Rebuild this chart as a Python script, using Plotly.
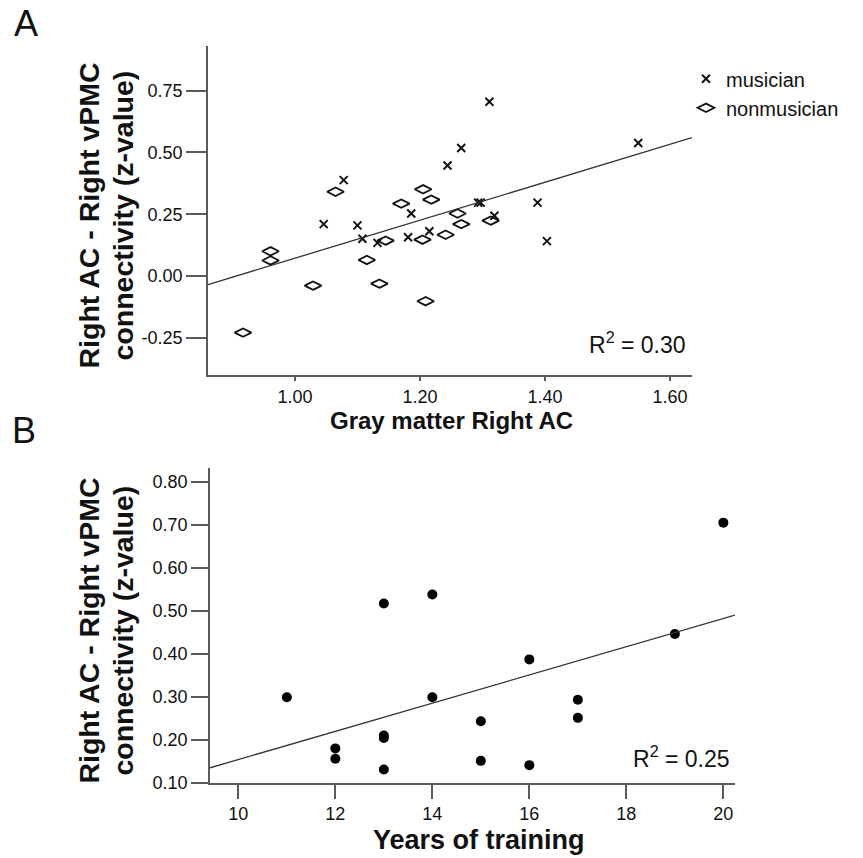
import plotly.graph_objects as go

W, H = 863, 858

# ---------------- Data ----------------
# Panel A: gray matter right AC vs connectivity
mus_gm = [1.046, 1.078, 1.100, 1.108, 1.132, 1.181, 1.186, 1.215, 1.244,
          1.266, 1.293, 1.297, 1.311, 1.319, 1.388, 1.403, 1.549]
mus_conn = [0.210, 0.388, 0.205, 0.151, 0.134, 0.157, 0.253, 0.181, 0.447,
            0.518, 0.297, 0.297, 0.705, 0.244, 0.297, 0.141, 0.538]
non_gm = [0.917, 0.961, 0.961, 1.029, 1.065, 1.115, 1.135, 1.145, 1.170,
          1.204, 1.205, 1.209, 1.218, 1.241, 1.260, 1.266, 1.313]
non_conn = [-0.229, 0.100, 0.063, -0.039, 0.341, 0.065, -0.031, 0.143, 0.293,
            0.147, 0.351, -0.102, 0.309, 0.167, 0.253, 0.210, 0.224]
fitA = (0.769, -0.697)   # slope, intercept
r2A = "0.30"

# Panel B: years of training vs connectivity (musicians)
years = [11, 12, 12, 13, 13, 13, 13, 14, 14, 15, 15, 16, 16, 17, 17, 19, 20]
conn_b = [0.299, 0.180, 0.156, 0.517, 0.210, 0.204, 0.131, 0.538, 0.299,
          0.243, 0.151, 0.387, 0.141, 0.293, 0.251, 0.446, 0.705]
fitB = (0.0328, -0.174)
r2B = "0.25"

xA_ticks = [1.00, 1.20, 1.40, 1.60]
yA_ticks = [-0.25, 0.00, 0.25, 0.50, 0.75]
xB_ticks = [10, 12, 14, 16, 18, 20]
yB_ticks = [0.10, 0.20, 0.30, 0.40, 0.50, 0.60, 0.70, 0.80]

xA_range = [0.861, 1.635]
yA_range = [-0.399, 0.929]
xB_range = [9.416, 20.24]
yB_range = [0.10, 0.831]

# ---------------- Figure ----------------
def px_x(p):
    return p / W

def px_y(p):
    return 1 - p / H

AX = "#5a5a5a"
TICKFONT = dict(family="Liberation Sans, Arial", size=18, color="#111")
BOLD = "Liberation Sans, Arial"

fig = go.Figure()

fig.add_trace(go.Scatter(
    x=mus_gm, y=mus_conn, mode="markers", name="musician",
    marker=dict(symbol="x-thin-open", size=8, color="#111",
                line=dict(width=2, color="#111")),
    xaxis="x", yaxis="y"))
fig.add_trace(go.Scatter(
    x=non_gm, y=non_conn, mode="markers", name="nonmusician",
    marker=dict(symbol="diamond-wide-open", size=12, color="#111",
                line=dict(width=1.8, color="#111")),
    xaxis="x", yaxis="y"))
fig.add_trace(go.Scatter(
    x=xA_range, y=[fitA[0] * v + fitA[1] for v in xA_range], mode="lines",
    line=dict(color="#333", width=1.3), showlegend=False, hoverinfo="skip",
    xaxis="x", yaxis="y"))

fig.add_trace(go.Scatter(
    x=years, y=conn_b, mode="markers", showlegend=False,
    marker=dict(symbol="circle", size=10, color="#000"),
    xaxis="x2", yaxis="y2"))
fig.add_trace(go.Scatter(
    x=xB_range, y=[fitB[0] * v + fitB[1] for v in xB_range], mode="lines",
    line=dict(color="#333", width=1.3), showlegend=False, hoverinfo="skip",
    xaxis="x2", yaxis="y2"))

common = dict(showline=True, linecolor=AX, linewidth=1.6, ticks="outside",
              tickcolor=AX, tickwidth=1.6, showgrid=False, zeroline=False,
              tickfont=TICKFONT, fixedrange=True)

fig.update_layout(
    width=W, height=H,
    margin=dict(l=0, r=0, t=0, b=0),
    paper_bgcolor="white", plot_bgcolor="white",
    xaxis=dict(domain=[px_x(208), px_x(692)], range=xA_range, anchor="y",
               tickvals=xA_ticks, ticktext=[f"{v:.2f}" for v in xA_ticks],
               ticklen=5, **common),
    yaxis=dict(domain=[px_y(379), px_y(47)], range=yA_range, anchor="x",
               tickvals=yA_ticks, ticktext=[f"{v:.2f}" for v in yA_ticks],
               ticklen=20, **common),
    xaxis2=dict(domain=[px_x(210), px_x(735)], range=xB_range, anchor="y2",
                tickvals=xB_ticks, ticktext=[str(v) for v in xB_ticks],
                ticklen=14, **common),
    yaxis2=dict(domain=[px_y(792), px_y(474)], range=yB_range, anchor="x2",
                tickvals=yB_ticks, ticktext=[f"{v:.2f}" for v in yB_ticks],
                ticklen=17, **common),
    legend=dict(x=px_x(686), y=px_y(60), xanchor="left", yanchor="top",
                font=dict(family="Liberation Sans, Arial", size=20, color="#111"),
                bgcolor="rgba(0,0,0,0)", itemwidth=30, tracegroupgap=0),
    showlegend=True,
)

ann = []
# Panel letters
ann.append(dict(text="A", x=px_x(12), y=px_y(24), xref="paper", yref="paper",
                xanchor="left", yanchor="middle", showarrow=False,
                font=dict(family="Liberation Sans, Arial", size=36, color="#111")))
ann.append(dict(text="B", x=px_x(10), y=px_y(436), xref="paper", yref="paper",
                xanchor="left", yanchor="middle", showarrow=False,
                font=dict(family="Liberation Sans, Arial", size=36, color="#111")))

# Y titles
for cy in (218, 638):
    ann.append(dict(text="<b>Right AC - Right vPMC</b>", x=px_x(89), y=px_y(cy),
                    xref="paper", yref="paper", textangle=-90, showarrow=False,
                    xanchor="center", yanchor="middle",
                    font=dict(family=BOLD, size=28.5, color="#111")))
    ann.append(dict(text="<b>connectivity (z-value)</b>", x=px_x(123), y=px_y(cy),
                    xref="paper", yref="paper", textangle=-90, showarrow=False,
                    xanchor="center", yanchor="middle",
                    font=dict(family=BOLD, size=28.5, color="#111")))

# X titles
ann.append(dict(text="<b>Gray matter Right AC</b>", x=px_x(452), y=px_y(425),
                xref="paper", yref="paper", showarrow=False, borderpad=0,
                xanchor="center", yanchor="middle",
                font=dict(family=BOLD, size=24, color="#111")))
ann.append(dict(text="<b>Years of training</b>", x=px_x(479), y=px_y(850),
                xref="paper", yref="paper", showarrow=False,
                xanchor="center", yanchor="middle",
                font=dict(family=BOLD, size=27, color="#111")))

# R^2 labels
ann.append(dict(text=f"R<sup>2</sup> = {r2A}", x=px_x(688), y=px_y(347),
                xref="paper", yref="paper", showarrow=False,
                xanchor="right", yanchor="middle",
                font=dict(family="Liberation Sans, Arial", size=23, color="#111")))
ann.append(dict(text=f"R<sup>2</sup> = {r2B}", x=px_x(732), y=px_y(766),
                xref="paper", yref="paper", showarrow=False,
                xanchor="right", yanchor="middle",
                font=dict(family="Liberation Sans, Arial", size=23, color="#111")))

fig.update_layout(annotations=ann)

fig.write_html("out.html")
